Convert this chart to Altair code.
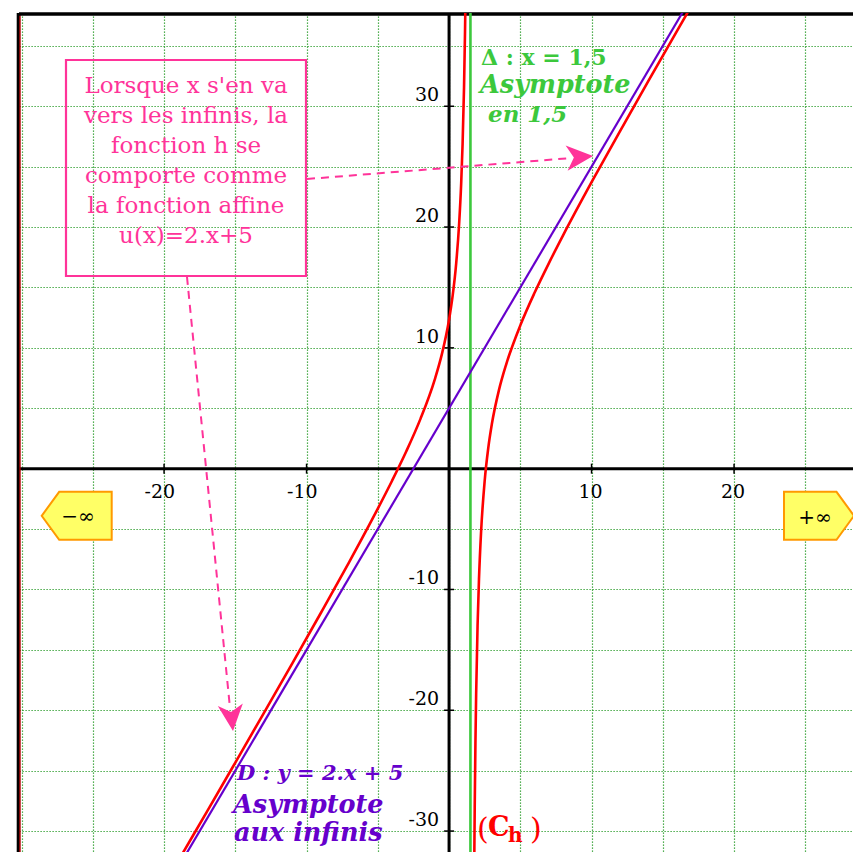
import altair as alt
import pandas as pd

# ---------------- data ----------------
# Oblique asymptote D : y = 2x + 5 (two points beyond the view)
asym_x = [-20.0, 18.0]
asym_y = [-35.0, 41.0]

# Vertical asymptote Delta : x = 1.5
vert_x = [1.5]

# Curve (C_h) - left branch (x < 1.5)
left_x = [-19.5, -19.0, -17.0, -15.0, -13.0, -11.0, -9.0, -7.0, -5.0, -4.0, -3.0, -2.0,
          -1.0, -0.5, 0.0, 0.25, 0.5, 0.7, 0.85, 0.95, 1.05, 1.12, 1.15]
left_y = [-33.48, -32.46, -28.41, -24.33, -20.24, -16.12, -11.95, -7.71, -3.31, -1.0, 1.44, 4.14,
          7.4, 9.5, 12.33, 14.3, 17.0, 20.15, 23.62, 26.9, 31.54, 36.19, 38.73]

# Curve (C_h) - right branch (x > 1.5)
right_x = [1.74, 1.76, 1.8, 1.85, 1.9, 2.0, 2.1, 2.25, 2.5, 2.75, 3.0, 3.5, 4.0, 5.0, 6.0,
           7.0, 8.0, 10.0, 12.0, 14.0, 16.0, 17.0]
right_y = [-37.35, -33.8, -28.07, -22.73, -18.7, -13.0, -9.13, -5.17, -1.0, 1.7, 3.67, 6.5, 8.6,
           11.86, 14.56, 17.0, 19.31, 23.71, 27.95, 32.12, 36.24, 38.29]

grid_x = [-30, -25, -20, -15, -10, -5, 0, 5, 10, 15, 20, 25]
grid_y = [-30, -25, -20, -15, -10, -5, 0, 5, 10, 15, 20, 25, 30, 35]

xtick_vals = [-20, -10, 10, 20]
xtick_text = ["-20", "-10", "10", "20"]
ytick_vals = [30, 20, 10, -10, -20, -30]
ytick_text = ["30", "20", "10", "-10", "-20", "-30"]

# ---------------- styling ----------------
RED = "#FF0000"
PURPLE = "#6600CC"
GREEN = "#3CC83C"
PINK = "#FF3399"
GRID = "#1E961E"
SERIF = "DejaVu Serif"

OX, OY = 19, 13  # page position of the plot origin
W, H = 834, 839

xs = alt.Scale(domain=[-30.18, -30.18 + W / 14.25], nice=False, zero=False)
ys = alt.Scale(domain=[37.72 - H / 12.08, 37.72], nice=False, zero=False)
xaxis = alt.Axis(values=grid_x, grid=True, gridColor=GRID, gridDash=[1.2, 1.8], gridWidth=1.2,
                 labels=False, ticks=False, domain=False, title=None)
yaxis = alt.Axis(values=grid_y, grid=True, gridColor=GRID, gridDash=[1.2, 1.8], gridWidth=1.2,
                 labels=False, ticks=False, domain=False, title=None)


def X(f="x"):
    return alt.X(f"{f}:Q", scale=xs, axis=xaxis)


def Y(f="y"):
    return alt.Y(f"{f}:Q", scale=ys, axis=yaxis)


one = pd.DataFrame({"a": [0]})

# grid holder
grid_layer = alt.Chart(pd.DataFrame({"x": [0.0], "y": [0.0]})).mark_point(opacity=0).encode(x=X(), y=Y())

# black axes through the origin
xaxis_line = alt.Chart(pd.DataFrame({"y": [0.0]})).mark_rule(color="black", strokeWidth=3).encode(y=Y())
yaxis_line = alt.Chart(pd.DataFrame({"x": [0.0]})).mark_rule(color="black", strokeWidth=3).encode(x=X())

# frame (left and top)
left_border = alt.Chart(one).mark_rule(color="black", strokeWidth=3.2).encode(x=alt.value(-0.7))
left_red = alt.Chart(one).mark_rule(color="#B00000", strokeWidth=1.4).encode(x=alt.value(1.0))
top_border = alt.Chart(one).mark_rule(color="black", strokeWidth=3.4).encode(y=alt.value(1.0))

# small ticks
xt_df = pd.DataFrame({"x": xtick_vals, "y": [0.0] * len(xtick_vals), "t": xtick_text})
yt_df = pd.DataFrame({"x": [0.0] * len(ytick_vals), "y": ytick_vals, "t": ytick_text})
xticks = alt.Chart(xt_df).mark_point(shape="M0,-1L0,1", filled=False, size=100, color="black",
                                     strokeWidth=1.5, opacity=1).encode(x=X(), y=Y())
yticks = alt.Chart(yt_df).mark_point(shape="M-1,0L1,0", filled=False, size=100, color="black",
                                     strokeWidth=1.5, opacity=1).encode(x=X(), y=Y())
xlabels = alt.Chart(xt_df).mark_text(align="right", baseline="alphabetic", dx=11, dy=29,
                                     font=SERIF, fontSize=19, color="black").encode(x=X(), y=Y(), text="t:N")
ylabels = alt.Chart(yt_df).mark_text(align="right", baseline="alphabetic", dx=-10, dy=-5,
                                     font=SERIF, fontSize=19, color="black").encode(x=X(), y=Y(), text="t:N")

# asymptotes and curve
green_line = alt.Chart(pd.DataFrame({"x": vert_x})).mark_rule(color=GREEN, strokeWidth=2.6).encode(x=X())
purple_line = alt.Chart(pd.DataFrame({"x": asym_x, "y": asym_y})).mark_line(
    color=PURPLE, strokeWidth=2.2, clip=True).encode(x=X(), y=Y())
curve_df = pd.concat([
    pd.DataFrame({"x": left_x, "y": left_y, "b": "left"}),
    pd.DataFrame({"x": right_x, "y": right_y, "b": "right"}),
])
red_curve = alt.Chart(curve_df).mark_line(color=RED, strokeWidth=2.6, interpolate="monotone",
                                          clip=True).encode(x=X(), y=Y(), detail="b:N", order="x:Q")


def txt(text, px, py, **kw):
    return alt.Chart(one).mark_text(text=text, baseline="alphabetic", **kw).encode(
        x=alt.value(px - OX), y=alt.value(py - OY))


# pink explanation box + arrows
pink_rect = alt.Chart(one).mark_rect(filled=False, stroke=PINK, strokeWidth=2.2).encode(
    x=alt.value(66 - OX), x2=alt.value(306 - OX), y=alt.value(60 - OY), y2=alt.value(276 - OY))
pink_text = txt(["Lorsque x s'en va", "vers les infinis, la", "fonction h se", "comporte comme",
                 "la fonction affine", "u(x)=2.x+5"], 186, 93, align="center", font=SERIF,
                fontSize=23, lineHeight=30, color=PINK)
arrow1 = alt.Chart(one).mark_rule(color=PINK, strokeWidth=2, strokeDash=[8, 6]).encode(
    x=alt.value(307 - OX), y=alt.value(179 - OY), x2=alt.value(572 - OX), y2=alt.value(158 - OY))
arrow2 = alt.Chart(one).mark_rule(color=PINK, strokeWidth=2, strokeDash=[8, 6]).encode(
    x=alt.value(187 - OX), y=alt.value(277 - OY), x2=alt.value(230 - OX), y2=alt.value(708 - OY))
HEAD = "M0,0L-2,-0.95L-1.45,0L-2,0.95Z"
head1 = alt.Chart(one).mark_point(shape=HEAD, filled=True, size=700, color=PINK, opacity=1,
                                  angle=355.4).encode(x=alt.value(593 - OX), y=alt.value(156 - OY))
head2 = alt.Chart(one).mark_point(shape=HEAD, filled=True, size=700, color=PINK, opacity=1,
                                  angle=84.2).encode(x=alt.value(233 - OX), y=alt.value(731 - OY))

# green label
g1 = txt("Δ : x = 1,5", 481, 65, align="left", font=SERIF, fontSize=22, fontWeight="bold", color=GREEN)
g2 = txt("Asymptote", 480, 93, align="left", font=SERIF, fontSize=25.5, fontWeight="bold",
         fontStyle="italic", color=GREEN)
g3 = txt("en 1,5", 488, 122, align="left", font=SERIF, fontSize=23, fontWeight="bold",
         fontStyle="italic", color=GREEN)

# purple label
p1 = txt("D : y = 2.x + 5", 237, 780, align="left", font=SERIF, fontSize=21, fontWeight="bold",
         fontStyle="italic", color=PURPLE)
p2 = txt("Asymptote", 233, 813, align="left", font=SERIF, fontSize=25.5, fontWeight="bold",
         fontStyle="italic", color=PURPLE)
p3 = txt("aux infinis", 234, 841, align="left", font=SERIF, fontSize=25.5, fontWeight="bold",
         fontStyle="italic", color=PURPLE)

# (C_h) label
c1 = txt("(", 477, 839, align="left", font=SERIF, fontSize=30, color=RED)
c2 = txt("C", 488, 836, align="left", font=SERIF, fontSize=27, fontWeight="bold", color=RED)
c3 = txt("h", 508, 842, align="left", font=SERIF, fontSize=20, fontWeight="bold", color=RED)
c4 = txt(")", 530, 839, align="left", font=SERIF, fontSize=30, color=RED)

# infinity tags
LTAG = "M-3.5,0L-1.75,-2.4L3.5,-2.4L3.5,2.4L-1.75,2.4Z"
RTAG = "M3.5,0L1.75,-2.4L-3.5,-2.4L-3.5,2.4L1.75,2.4Z"
tag_l = alt.Chart(one).mark_point(shape=LTAG, filled=True, size=400, fill="#FFFF66", stroke="#FF9900",
                                  strokeWidth=2, opacity=1).encode(x=alt.value(76.7 - OX), y=alt.value(515.8 - OY))
tag_r = alt.Chart(one).mark_point(shape=RTAG, filled=True, size=400, fill="#FFFF66", stroke="#FF9900",
                                  strokeWidth=2, opacity=1).encode(x=alt.value(819 - OX), y=alt.value(515.8 - OY))
tl = txt("−∞", 78, 523, align="center", font=SERIF, fontSize=20, color="black")
tr = txt("+∞", 815, 524, align="center", font=SERIF, fontSize=20, color="black")

chart = alt.layer(
    grid_layer, xaxis_line, yaxis_line, left_border, left_red, top_border,
    xticks, yticks, xlabels, ylabels,
    green_line, purple_line, red_curve,
    pink_rect, pink_text, arrow1, arrow2, head1, head2,
    g1, g2, g3, p1, p2, p3, c1, c2, c3, c4,
    tag_l, tag_r, tl, tr,
).properties(
    width=W, height=H,
    padding={"left": 11, "top": 5, "right": 0, "bottom": 0},
    autosize=alt.AutoSizeParams(type="none"),
    background="white",
).configure_view(stroke=None)

chart.save("out.html", embed_options={"renderer": "svg", "actions": False})
